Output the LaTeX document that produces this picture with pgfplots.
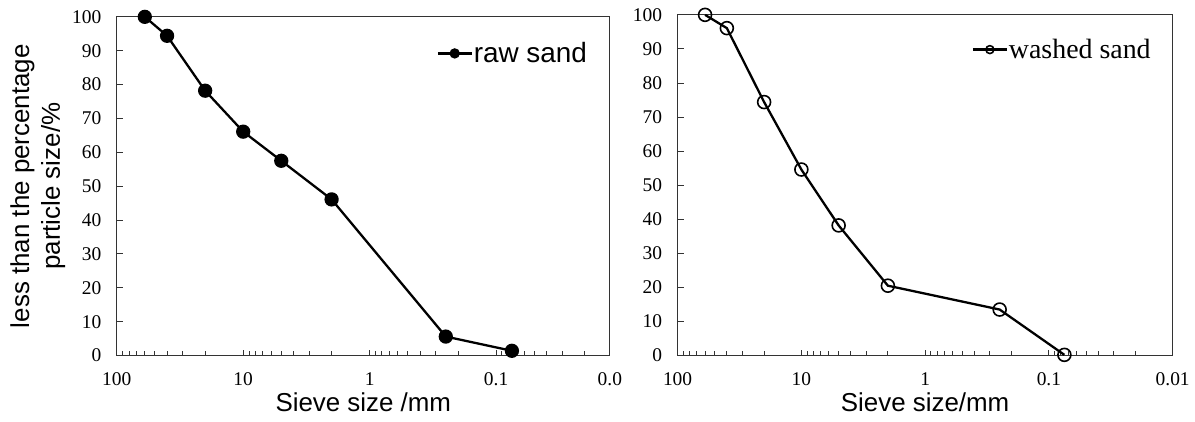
\documentclass[border=0pt]{standalone}
\usepackage{pgfplots}
\pgfplotsset{compat=1.18}
\usepackage{fontspec}
\setmainfont{Liberation Serif}
\newfontfamily\arial{Liberation Sans}

\pgfplotsset{
  every axis/.append style={
    scale only axis,
    ymin=0, ymax=100,
    xtick pos=bottom, ytick pos=left, tick align=inside,
    major tick length=6pt, minor tick length=5pt,
    axis line style={line width=1.1pt, black!80},
    tick style={line width=0.9pt, black!80},
    /pgf/number format/assume math mode=true,
    tick label style={font=\fontsize{19.5}{21}\selectfont},
    yticklabel style={xshift=-12pt},
    xticklabel style={yshift=-14pt},
    label style={font=\arial\fontsize{26}{31}\selectfont},
  },
  legend image code/.code={
    \draw[mark repeat=2, mark phase=2, #1, mark size=4pt]
      plot coordinates {(0pt,0pt) (17pt,0pt) (34pt,0pt)};
  },
}

\begin{document}
\begin{tikzpicture}
\begin{axis}[
  width=495pt, height=340pt,
  xmode=log, x dir=reverse,
  xmin=0.0126, xmax=100,
  ytick={0,10,...,100},
  xtick={100,10,1,0.1,0.0126},
  xticklabels={100,10,1,0.1,0.0},
  minor xtick={20,30,40,50,60,70,80,90,2,3,4,5,6,7,8,9,
    0.2,0.3,0.4,0.5,0.6,0.7,0.8,0.9,0.02,0.03,0.04,0.05,0.06,0.07,0.08,0.09},
  xlabel={Sieve size /mm},
  ylabel style={align=center},
  ylabel={less than the percentage\\particle size/\%},
  legend style={at={(axis description cs:0.956,0.892)}, anchor=east,
    draw=none, fill=none, inner sep=0pt, nodes={inner sep=1pt},
    font=\arial\fontsize{28}{30}\selectfont},
]
\addplot[black, line width=2.3pt, mark=*, mark size=6pt] coordinates {
  (60,100) (40,94.4) (20,78.2) (10,66.1) (5,57.5) (2,46.1) (0.25,5.6) (0.075,1.4)
};
\addlegendentry{raw sand}
\end{axis}

\begin{axis}[
  at={(563pt,0pt)},
  width=497pt, height=342pt,
  xmode=log, x dir=reverse,
  xmin=0.01, xmax=100,
  ytick={0,10,...,100},
  xtick={100,10,1,0.1,0.01},
  xticklabels={100,10,1,0.1,0.01},
  minor xtick={20,30,40,50,60,70,80,90,2,3,4,5,6,7,8,9,
    0.2,0.3,0.4,0.5,0.6,0.7,0.8,0.9,0.02,0.03,0.04,0.05,0.06,0.07,0.08,0.09},
  xlabel={Sieve size/mm},
  legend style={at={(axis description cs:0.958,0.898)}, anchor=east,
    draw=none, fill=none, inner sep=0pt, nodes={inner sep=1pt},
    font=\fontsize{28}{30}\selectfont},
]
\addplot[black, line width=2.3pt, mark=o, mark size=6.5pt,
  mark options={fill=white, line width=1.6pt}] coordinates {
  (60,100) (40,96.1) (20,74.4) (10,54.6) (5,38.2) (2,20.5) (0.25,13.5) (0.075,0.2)
};
\addlegendentry{washed sand}
\end{axis}
% white margin round the picture, as in the reference
\path ([xshift=-7pt,yshift=-6pt]current bounding box.south west)
  rectangle ([xshift=2pt,yshift=5pt]current bounding box.north east);
\end{tikzpicture}
\end{document}
